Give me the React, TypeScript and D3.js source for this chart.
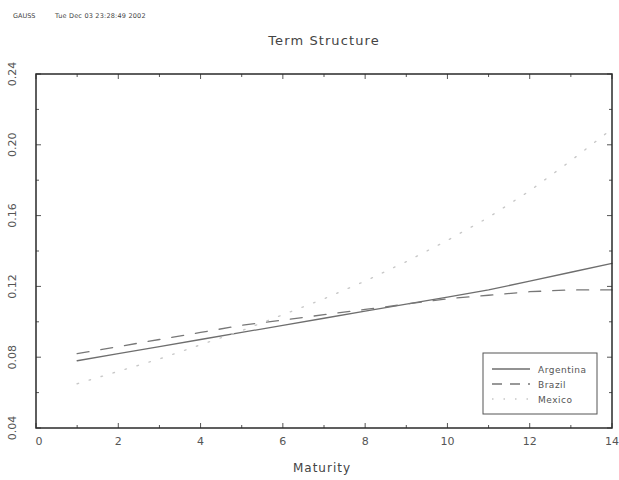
import React from "react";
import * as d3 from "d3";

const maturity = [1, 2, 3, 4, 5, 6, 7, 8, 9, 10, 11, 12, 13, 14];
const argentina = [0.078, 0.082, 0.086, 0.09, 0.094, 0.098, 0.102, 0.106, 0.11, 0.114, 0.118, 0.123, 0.128, 0.133];
const brazil = [0.082, 0.086, 0.09, 0.094, 0.098, 0.101, 0.104, 0.107, 0.11, 0.113, 0.115, 0.117, 0.118, 0.118];
const mexico = [0.065, 0.072, 0.079, 0.087, 0.095, 0.104, 0.113, 0.123, 0.134, 0.146, 0.159, 0.174, 0.191, 0.209];

const xTicks = [0, 2, 4, 6, 8, 10, 12, 14];
const xMinor = [1, 3, 5, 7, 9, 11, 13];
const yTicks = [0.04, 0.08, 0.12, 0.16, 0.2, 0.24];
const yMinor = [0.06, 0.1, 0.14, 0.18, 0.22];

const series = [
  { name: "Argentina", values: argentina, dash: "none", legendDash: "none", color: "#6e6e6e", width: 1.3 },
  { name: "Brazil", values: brazil, dash: "12 12", legendDash: "10 8", color: "#777", width: 1.3 },
  { name: "Mexico", values: mexico, dash: "1.5 11", legendDash: "1.5 10", color: "#c8c8c8", width: 1.4 },
];

const W = 619;
const H = 480;
const left = 36;
const right = 612;
const top = 74;
const bottom = 428;
const font = "'DejaVu Sans', sans-serif";

export default function App() {
  const x = d3.scaleLinear().domain([0, 14]).range([left, right]);
  const y = d3.scaleLinear().domain([0.04, 0.24]).range([bottom, top]);
  const line = d3
    .line<number>()
    .x((_, i) => x(maturity[i]))
    .y((d) => y(d));

  const tickColor = "#555";
  return (
    <svg
      width={W}
      height={H}
      style={{ position: "absolute", left: 0, top: 0, background: "#fff" }}
      fontFamily={font}
    >
      <text x={13} y={18} fontSize={6.5} fill="#444">GAUSS</text>
      <text x={55} y={18} fontSize={6.5} fill="#444" letterSpacing={0.2}>Tue Dec 03 23:28:49 2002</text>
      <text x={324} y={45} fontSize={13} fill="#444" textAnchor="middle" letterSpacing={1.1}>
        Term Structure
      </text>

      {/* series */}
      {series.map((s) => (
        <path
          key={s.name}
          d={line(s.values) ?? ""}
          fill="none"
          stroke={s.color}
          strokeWidth={s.width}
          strokeDasharray={s.dash}
          strokeLinecap="round"
        />
      ))}

      {/* ticks (inward) */}
      {xTicks.map((t) => (
        <g key={"xt" + t}>
          <line x1={x(t)} x2={x(t)} y1={bottom} y2={bottom - 5} stroke={tickColor} />
          <line x1={x(t)} x2={x(t)} y1={top} y2={top + 5} stroke={tickColor} />
        </g>
      ))}
      {xMinor.map((t) => (
        <g key={"xm" + t}>
          <line x1={x(t)} x2={x(t)} y1={bottom} y2={bottom - 3} stroke={tickColor} />
          <line x1={x(t)} x2={x(t)} y1={top} y2={top + 3} stroke={tickColor} />
        </g>
      ))}
      {yTicks.map((t) => (
        <g key={"yt" + t}>
          <line x1={left} x2={left + 5} y1={y(t)} y2={y(t)} stroke={tickColor} />
          <line x1={right} x2={right - 5} y1={y(t)} y2={y(t)} stroke={tickColor} />
        </g>
      ))}
      {yMinor.map((t) => (
        <g key={"ym" + t}>
          <line x1={left} x2={left + 3} y1={y(t)} y2={y(t)} stroke={tickColor} />
          <line x1={right} x2={right - 3} y1={y(t)} y2={y(t)} stroke={tickColor} />
        </g>
      ))}

      {/* frame */}
      <rect x={left} y={top} width={right - left} height={bottom - top} fill="none" stroke="#2a2a2a" strokeWidth={1.5} />

      {/* tick labels */}
      {xTicks.map((t) => (
        <text key={"xl" + t} x={x(t) + (t === 0 ? 3 : 0)} y={bottom + 17} fontSize={11} fill="#555" textAnchor="middle">
          {t}
        </text>
      ))}
      {yTicks.map((t) => (
        <text
          key={"yl" + t}
          transform={`translate(16,${y(t)}) rotate(-90)`}
          fontSize={11}
          fill="#555"
          textAnchor="middle"
        >
          {t.toFixed(2)}
        </text>
      ))}

      <text x={322} y={472} fontSize={12} fill="#444" textAnchor="middle" letterSpacing={1}>
        Maturity
      </text>

      {/* legend */}
      <rect x={483} y={353} width={114} height={61} fill="#fff" stroke="#555" strokeWidth={1} />
      {series.map((s, i) => (
        <g key={"lg" + s.name} transform={`translate(0,${369 + i * 15})`}>
          <line x1={492} x2={530} y1={0} y2={0} stroke={s.color} strokeWidth={s.width} strokeDasharray={s.legendDash} />
          <text x={538} y={3.5} fontSize={9} fill="#555" letterSpacing={0.5}>
            {s.name}
          </text>
        </g>
      ))}
    </svg>
  );
}
